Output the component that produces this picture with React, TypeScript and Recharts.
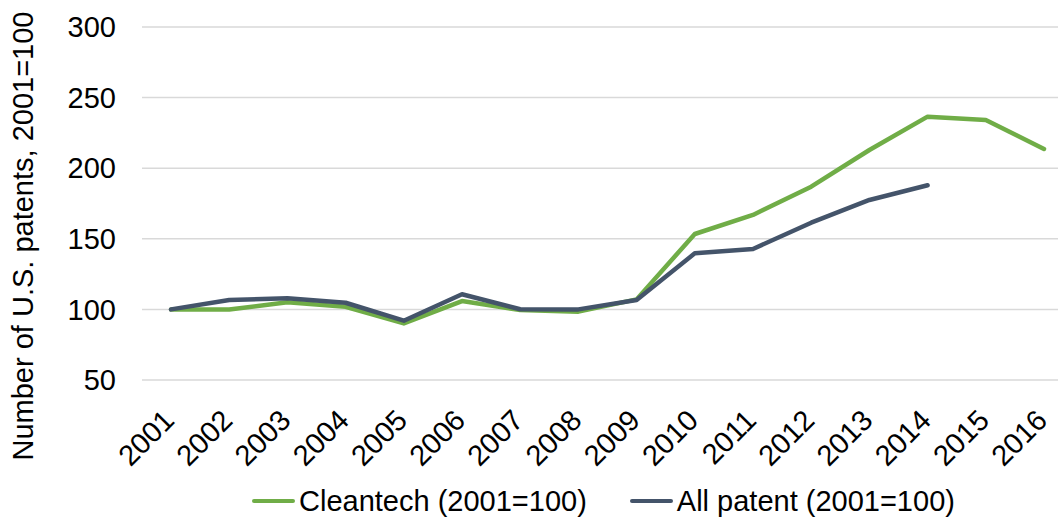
import { LineChart, Line, XAxis, YAxis, CartesianGrid, Legend } from 'recharts'

const years = ['2001', '2002', '2003', '2004', '2005', '2006', '2007', '2008', '2009', '2010', '2011', '2012', '2013', '2014', '2015', '2016']
const cleantech = [100, 100, 105, 101.9, 90.1, 105.9, 99.6, 98.4, 107.1, 153.4, 166.9, 186.9, 212.9, 236.5, 234.1, 213.6]
const allPatent = [100, 106.7, 107.9, 104.7, 92, 110.7, 100.1, 100, 106.7, 139.7, 142.8, 161.4, 177.5, 187.9, null, null]
const yTicks = [50, 100, 150, 200, 250, 300]
const seriesOrder = ['cleantech', 'allPatent']

const GREEN = '#70AD47'
const DARK = '#44546A'
const FONT = '"Liberation Sans", Arial, sans-serif'
const FS = 29

const data = years.map((year, i) => ({
  year,
  cleantech: cleantech[i],
  allPatent: allPatent[i],
}))

const XTick = ({ x, y, payload }: any) => (
  <g transform={`translate(${x + 5},${y + 42})`}>
    <text x={0} y={0} textAnchor="end" transform="rotate(-45)" fontSize={FS} fill="#000" fontFamily={FONT}>
      {payload.value}
    </text>
  </g>
)

const YLabel = () => (
  <g transform="translate(33,236)">
    <text x={0} y={0} textAnchor="middle" transform="rotate(-90)" fontSize={FS} fill="#000" fontFamily={FONT}>
      Number of U.S. patents, 2001=100
    </text>
  </g>
)

const LegendContent = ({ payload }: any) => {
  const items = seriesOrder
    .map((key) => (payload ?? []).find((p: any) => p.dataKey === key))
    .filter(Boolean)
  return (
    <div style={{ display: 'flex', alignItems: 'center', fontFamily: FONT }}>
      {items.map((item: any, i: number) => (
        <div key={item.value} style={{ display: 'flex', alignItems: 'center', marginRight: i === 0 ? 43 : 0 }}>
          <span style={{ display: 'inline-block', width: 43, height: 4, borderRadius: 2, background: item.color, marginRight: 4 }} />
          <span style={{ fontSize: FS, lineHeight: '32px', color: '#000', whiteSpace: 'nowrap' }}>{item.value}</span>
        </div>
      ))}
    </div>
  )
}

export default function App() {
  return (
    <div style={{ position: 'absolute', left: 0, top: 0, fontFamily: FONT }}>
      <LineChart width={1058} height={519} data={data} margin={{ top: 27, right: 0, left: 0, bottom: 0 }}>
        <CartesianGrid vertical={false} stroke="#D9D9D9" strokeWidth={1.5} />
        <XAxis
          dataKey="year"
          scale="point"
          padding={{ left: 29, right: 14 }}
          axisLine={false}
          tickLine={false}
          tickSize={0}
          tickMargin={0}
          height={139}
          interval={0}
          tick={<XTick />}
        />
        <YAxis
          domain={[50, 300]}
          ticks={yTicks}
          width={142}
          axisLine={false}
          tickLine={false}
          tickSize={0}
          tickMargin={26}
          tick={{ fontSize: FS, fill: '#000', fontFamily: FONT }}
          label={YLabel}
        />
        <Legend
          verticalAlign="middle"
          align="center"
          content={<LegendContent />}
          wrapperStyle={{ left: 252, top: 485, width: 'auto' }}
        />
        <Line
          type="linear"
          dataKey="cleantech"
          name="Cleantech (2001=100)"
          stroke={GREEN}
          strokeWidth={4.5}
          strokeLinecap="round"
          strokeLinejoin="round"
          dot={false}
          isAnimationActive={false}
        />
        <Line
          type="linear"
          dataKey="allPatent"
          name="All patent (2001=100)"
          stroke={DARK}
          strokeWidth={4.5}
          strokeLinecap="round"
          strokeLinejoin="round"
          dot={false}
          isAnimationActive={false}
        />
      </LineChart>
    </div>
  )
}
